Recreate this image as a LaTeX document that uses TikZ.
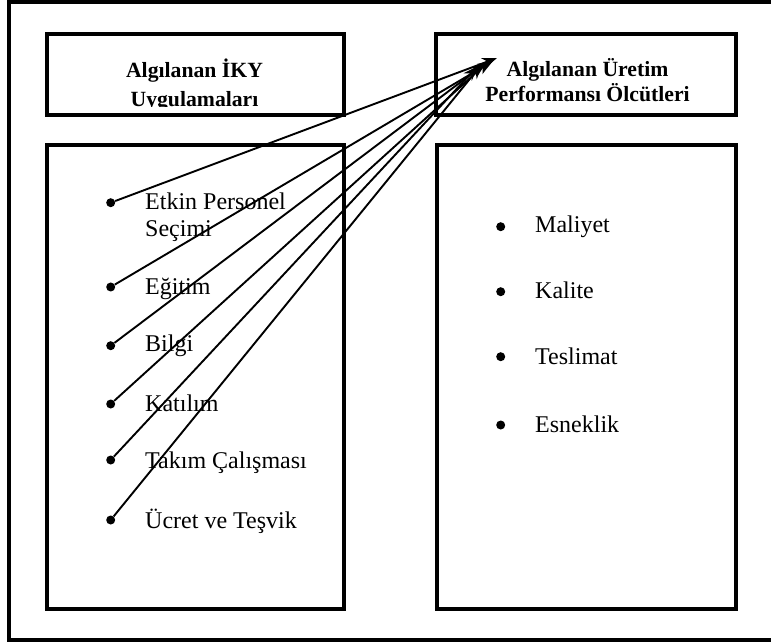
\documentclass[tikz,border=0pt]{standalone}
\usepackage{fontspec}
\setmainfont{Liberation Serif}
\usetikzlibrary{arrows.meta}
\begin{document}
\begin{tikzpicture}[x=1pt,y=-1pt,
  frame/.style={draw=black,line width=4.5pt},
  head/.style={font=\fontsize{21.7}{26}\selectfont\bfseries,inner sep=0,anchor=base},
  item/.style={font=\fontsize{24}{28}\selectfont,inner sep=0,anchor=base west},
  dot/.style={circle,fill=black,inner sep=0,minimum size=9pt},
  link/.style={line width=1.9pt,-{Stealth[length=15pt,width=11pt]}}]
\useasboundingbox (0,0) rectangle (771,644);
% outer frame (right side lies beyond the page)
\draw[line width=4pt] (771,2) -- (8.5,2) -- (8.5,639.5) -- (771,639.5);
% boxes
\draw[frame] (47,34) rectangle (344,115);
\draw[frame] (436,34) rectangle (736,115);
\draw[frame] (47,145) rectangle (344,609);
\draw[frame] (437,145) rectangle (736,609);
% headers
\node[head] (h1) at (194.5,78) {Algılanan İKY};
\begin{scope}
  \clip (50,37) rectangle (341,107);
  \node[head] (h2) at (194.5,106.5) {Uygulamaları};
\end{scope}
\node[head] (h3) at (587.5,77) {Algılanan Üretim};
\node[head] (h4) at (587.5,102) {Performansı Ölcütleri};
% left items
\node[item] (l1) at (145,210) {Etkin Personel};
\node[item] (l1b) at (145,237) {Seçimi};
\node[item] (l2) at (145,295) {Eğitim};
\node[item] (l3) at (145,352) {Bilgi};
\node[item] (l4) at (145,411.5) {Katılım};
\node[item] (l5) at (145,468) {Takım Çalışması};
\node[item] (l6) at (145,528) {Ücret ve Teşvik};
\node[dot] (b1) at (110.7,202.7) {};
\node[dot] (b2) at (110.7,287) {};
\node[dot] (b3) at (110.7,345.7) {};
\node[dot] (b4) at (110.7,404) {};
\node[dot] (b5) at (110.7,460) {};
\node[dot] (b6) at (110.7,520) {};
% right items
\node[item] (r1) at (535,233) {Maliyet};
\node[item] (r2) at (535,299) {Kalite};
\node[item] (r3) at (535,364) {Teslimat};
\node[item] (r4) at (535,432) {Esneklik};
\node[dot] (c1) at (500.7,226.7) {};
\node[dot] (c2) at (500.7,291.7) {};
\node[dot] (c3) at (500.7,356.7) {};
\node[dot] (c4) at (500.7,425) {};
% arrow tips
\coordinate (t1) at (497,58);
\coordinate (t2) at (493,61);
\coordinate (t3) at (486,63);
\coordinate (t4) at (490,60);
\coordinate (t5) at (478,66);
\coordinate (t6) at (482,64);
\draw[link] (b1) -- (t1);
\draw[link] (b2) -- (t2);
\draw[link] (b3) -- (t3);
\draw[link] (b4) -- (t4);
\draw[link] (b5) -- (t5);
\draw[link] (b6) -- (t6);
\end{tikzpicture}
\end{document}
